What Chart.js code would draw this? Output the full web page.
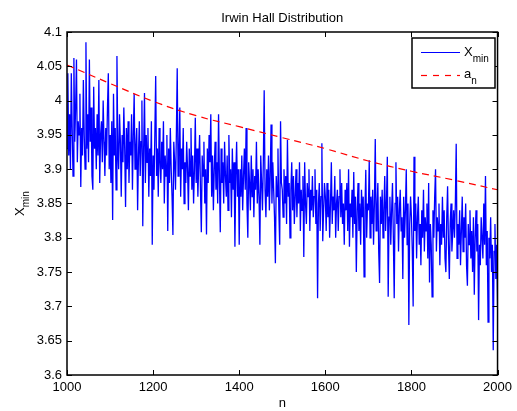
<!DOCTYPE html>
<html>
<head>
<meta charset="utf-8">
<script src="https://cdn.jsdelivr.net/npm/chart.js@4.4.0/dist/chart.umd.min.js"></script>
<style>
  body { margin: 0; background: #fff; }
</style>
</head>
<body>
<canvas id="chart" width="517" height="411"></canvas>
<script>
// sample index n runs 1000..2000 every 2
const nStart = 1000;
const nStep = 2;

const xminValues = [
  // 1000-1098
  3.93, 4.04, 3.92, 3.98, 3.90, 4.04, 3.96, 3.89, 4.062, 3.94, 3.99, 4.06, 3.91, 3.97, 3.95, 4.01, 3.874,
  3.96, 3.92, 4.03, 3.95, 3.90, 4.085, 3.93, 3.98, 3.91, 4.06, 3.94, 3.99, 3.89, 3.87, 4.02, 3.93,
  3.96, 3.90, 3.98, 3.92, 4.03, 3.88, 3.95, 3.97, 3.91, 4.00, 3.94, 3.89, 3.96, 3.92, 3.99, 4.04, 3.90,
  // 1100-1198
  3.95, 3.88, 3.97, 3.826, 4.01, 3.92, 3.96, 3.87, 4.065, 3.93, 3.90, 3.98, 3.94, 3.86, 3.95, 3.91, 3.99,
  3.93, 3.845, 3.96, 3.90, 3.97, 3.88, 3.94, 3.92, 3.98, 3.87, 3.95, 4.01, 3.90, 3.93, 3.96, 3.84,
  3.92, 3.97, 3.89, 3.94, 4.00, 3.817, 3.93, 4.011, 3.88, 3.95, 3.91, 3.96, 3.86, 3.93, 3.89, 3.97, 3.79,
  // 1200-1298
  3.92, 3.87, 3.95, 4.036, 3.89, 3.93, 3.86, 3.96, 3.91, 3.88, 3.94, 3.90, 3.97, 3.85, 3.92, 3.89, 3.95,
  3.81, 3.93, 3.88, 3.96, 3.90, 3.86, 3.804, 3.94, 3.91, 3.87, 3.95, 4.047, 3.89, 3.92, 3.99, 3.86,
  3.93, 3.90, 3.96, 3.85, 3.91, 3.88, 3.94, 3.90, 3.84, 3.93, 3.89, 3.96, 3.87, 3.92, 3.85, 3.90, 3.975,
  // 1300-1398
  3.88, 3.93, 3.86, 3.91, 3.95, 3.87, 3.808, 3.92, 3.89, 3.94, 3.85, 3.90, 3.805, 3.93, 3.88, 3.95, 3.91,
  3.98, 3.86, 3.92, 3.84, 3.90, 3.94, 3.87, 3.91, 3.85, 3.98, 3.89, 3.808, 3.93, 3.88, 3.91, 3.85,
  3.94, 3.89, 3.86, 3.92, 3.84, 3.95, 3.88, 3.90, 3.83, 3.93, 3.87, 3.91, 3.787, 3.89, 3.94, 3.86, 3.90,
  // 1400-1498
  3.79, 3.90, 3.86, 3.92, 3.84, 3.89, 3.93, 3.87, 3.96, 3.85, 3.80, 3.91, 3.88, 3.84, 3.92, 3.86, 3.90,
  3.83, 3.89, 3.87, 3.94, 3.85, 3.90, 3.86, 3.79, 3.92, 3.88, 3.84, 3.91, 4.015, 3.87, 3.83, 3.90,
  3.86, 3.92, 3.84, 3.89, 3.965, 3.85, 3.91, 3.87, 3.83, 3.763, 3.89, 3.86, 3.93, 3.84, 3.79, 3.97, 3.88,
  // 1500-1598
  3.87, 3.83, 3.90, 3.85, 3.89, 3.82, 3.943, 3.86, 3.88, 3.80, 3.87, 3.91, 3.84, 3.89, 3.82, 3.86, 3.90,
  3.83, 3.88, 3.85, 3.91, 3.81, 3.87, 3.84, 3.89, 3.772, 3.91, 3.85, 3.82, 3.88, 3.86, 3.90, 3.81,
  3.87, 3.84, 3.89, 3.83, 3.86, 3.90, 3.82, 3.87, 3.712, 3.85, 3.88, 3.81, 3.86, 3.938, 3.795, 3.84, 3.88,
  // 1600-1698
  3.86, 3.81, 3.88, 3.83, 3.87, 3.80, 3.85, 3.91, 3.82, 3.86, 3.84, 3.89, 3.80, 3.85, 3.87, 3.81, 3.86,
  3.90, 3.83, 3.88, 3.82, 3.85, 3.79, 3.87, 3.84, 3.88, 3.81, 3.90, 3.787, 3.85, 3.83, 3.87, 3.80,
  3.896, 3.82, 3.86, 3.75, 3.84, 3.88, 3.81, 3.85, 3.79, 3.87, 3.83, 3.86, 3.743, 3.84, 3.899, 3.80, 3.85,
  // 1700-1798
  3.84, 3.913, 3.80, 3.86, 3.82, 3.87, 3.79, 3.85, 3.944, 3.81, 3.84, 3.88, 3.78, 3.734, 3.86, 3.82, 3.87,
  3.80, 3.84, 3.89, 3.81, 3.85, 3.918, 3.714, 3.83, 3.86, 3.79, 3.84, 3.88, 3.80, 3.712, 3.85, 3.91,
  3.82, 3.86, 3.78, 3.84, 3.87, 3.81, 3.83, 3.74, 3.86, 3.80, 3.84, 3.90, 3.79, 3.85, 3.673, 3.82, 3.86,
  // 1800-1898
  3.83, 3.78, 3.70, 3.918, 3.81, 3.85, 3.77, 3.83, 3.86, 3.79, 3.82, 3.76, 3.84, 3.80, 3.87, 3.78, 3.83,
  3.81, 3.85, 3.77, 3.88, 3.735, 3.82, 3.79, 3.714, 3.84, 3.80, 3.86, 3.90, 3.78, 3.83, 3.81, 3.85,
  3.76, 3.82, 3.79, 3.86, 3.80, 3.84, 3.77, 3.75, 3.83, 3.875, 3.79, 3.74, 3.82, 3.85, 3.78, 3.81, 3.84,
  // 1900-2000
  3.80, 3.85, 3.937, 3.77, 3.82, 3.79, 3.84, 3.76, 3.81, 3.86, 3.78, 3.83, 3.80, 3.85, 3.76, 3.73, 3.82,
  3.79, 3.84, 3.77, 3.81, 3.75, 3.83, 3.717, 3.80, 3.84, 3.78, 3.82, 3.68, 3.79, 3.76, 3.83, 3.80,
  3.77, 3.85, 3.79, 3.89, 3.76, 3.81, 3.677, 3.80, 3.77, 3.83, 3.75, 3.79, 3.636, 3.78, 3.82, 3.74, 3.79,
  3.70
];

const anN = [1000, 1100, 1200, 1300, 1400, 1500, 1600, 1700, 1800, 1900, 2000];
const anValues = [4.052, 4.025, 3.999, 3.978, 3.962, 3.946, 3.930, 3.912, 3.897, 3.884, 3.870];

const xTicks = [1000, 1200, 1400, 1600, 1800, 2000];
const yTicks = [3.6, 3.65, 3.7, 3.75, 3.8, 3.85, 3.9, 3.95, 4, 4.05, 4.1];

const FONT = '"Liberation Sans", Arial, Helvetica, sans-serif';
Chart.defaults.font.family = FONT;
Chart.defaults.font.size = 13;
Chart.defaults.color = '#000';

// matlab style box, inside ticks, title, labels and legend
const matlabFrame = {
  id: 'matlabFrame',
  afterDraw(chart) {
    const ctx = chart.ctx;
    const { left, right, top, bottom } = chart.chartArea;
    const xs = chart.scales.x;
    const ys = chart.scales.y;
    const tl = 5;

    ctx.save();
    ctx.strokeStyle = '#000';
    ctx.lineWidth = 1;
    ctx.beginPath();
    xTicks.forEach(v => {
      const px = Math.round(xs.getPixelForValue(v)) + 0.5;
      ctx.moveTo(px, bottom); ctx.lineTo(px, bottom - tl);
      ctx.moveTo(px, top); ctx.lineTo(px, top + tl);
    });
    yTicks.forEach(v => {
      const py = Math.round(ys.getPixelForValue(v)) + 0.5;
      ctx.moveTo(left, py); ctx.lineTo(left + tl, py);
      ctx.moveTo(right, py); ctx.lineTo(right - tl, py);
    });
    ctx.stroke();

    ctx.lineWidth = 1.5;
    ctx.strokeRect(left, top, right - left, bottom - top);

    // title
    ctx.fillStyle = '#000';
    ctx.font = '13px ' + FONT;
    ctx.textAlign = 'center';
    ctx.textBaseline = 'alphabetic';
    ctx.fillText('Irwin Hall Distribution', (left + right) / 2, 22);

    // x label
    ctx.fillText('n', (left + right) / 2, 407);

    // y label X_min, rotated
    ctx.save();
    ctx.translate(24, 216);
    ctx.rotate(-Math.PI / 2);
    ctx.textAlign = 'left';
    ctx.font = '13px ' + FONT;
    ctx.fillText('X', 0, 0);
    const xw = ctx.measureText('X').width;
    ctx.font = '10px ' + FONT;
    ctx.fillText('min', xw, 5);
    ctx.restore();

    // legend
    const bx = 412, by = 38, bw = 83, bh = 50;
    ctx.fillStyle = '#fff';
    ctx.fillRect(bx, by, bw, bh);
    ctx.lineWidth = 1.5;
    ctx.strokeStyle = '#000';
    ctx.strokeRect(bx, by, bw, bh);

    ctx.lineWidth = 1.2;
    ctx.strokeStyle = 'rgb(0,0,255)';
    ctx.beginPath();
    ctx.moveTo(421, 52.5); ctx.lineTo(460, 52.5);
    ctx.stroke();

    ctx.strokeStyle = 'rgb(255,0,0)';
    ctx.setLineDash([6, 6]);
    ctx.beginPath();
    ctx.moveTo(421, 75.5); ctx.lineTo(460, 75.5);
    ctx.stroke();
    ctx.setLineDash([]);

    ctx.fillStyle = '#000';
    ctx.textAlign = 'left';
    ctx.font = '13px ' + FONT;
    ctx.fillText('X', 464, 56);
    let w = ctx.measureText('X').width;
    ctx.font = '10px ' + FONT;
    ctx.fillText('min', 464 + w, 62);

    ctx.font = '13px ' + FONT;
    ctx.fillText('a', 464, 78);
    w = ctx.measureText('a').width;
    ctx.font = '10px ' + FONT;
    ctx.fillText('n', 464 + w, 84);

    ctx.restore();
  }
};

new Chart(document.getElementById('chart'), {
  type: 'line',
  data: {
    datasets: [
      {
        label: 'X_min',
        data: xminValues.map((v, i) => ({ x: nStart + i * nStep, y: v })),
        borderColor: '#0000ff',
        borderWidth: 1.3,
        pointRadius: 0,
        tension: 0,
        fill: false,
        order: 2
      },
      {
        label: 'a_n',
        data: anN.map((n, i) => ({ x: n, y: anValues[i] })),
        borderColor: '#ff0000',
        borderWidth: 1.2,
        borderDash: [7, 5],
        pointRadius: 0,
        tension: 0.4,
        fill: false,
        order: 1
      }
    ]
  },
  options: {
    responsive: false,
    animation: false,
    layout: { padding: { left: 0, right: 16, top: 32, bottom: 0 } },
    plugins: {
      legend: { display: false },
      title: { display: false },
      tooltip: { enabled: false }
    },
    scales: {
      x: {
        type: 'linear',
        min: 1000,
        max: 2000,
        grid: { display: false, drawTicks: false },
        border: { display: false },
        afterBuildTicks: s => { s.ticks = xTicks.map(v => ({ value: v })); },
        afterFit: s => { s.height = 36; },
        ticks: { padding: 5, maxRotation: 0, callback: v => String(v) }
      },
      y: {
        min: 3.6,
        max: 4.1,
        grid: { display: false, drawTicks: false },
        border: { display: false },
        afterBuildTicks: s => { s.ticks = yTicks.map(v => ({ value: v })); },
        afterFit: s => { s.width = 67; },
        ticks: { padding: 5, callback: v => String(Number(v.toFixed(2))) }
      }
    }
  },
  plugins: [matlabFrame]
});
</script>
</body>
</html>
